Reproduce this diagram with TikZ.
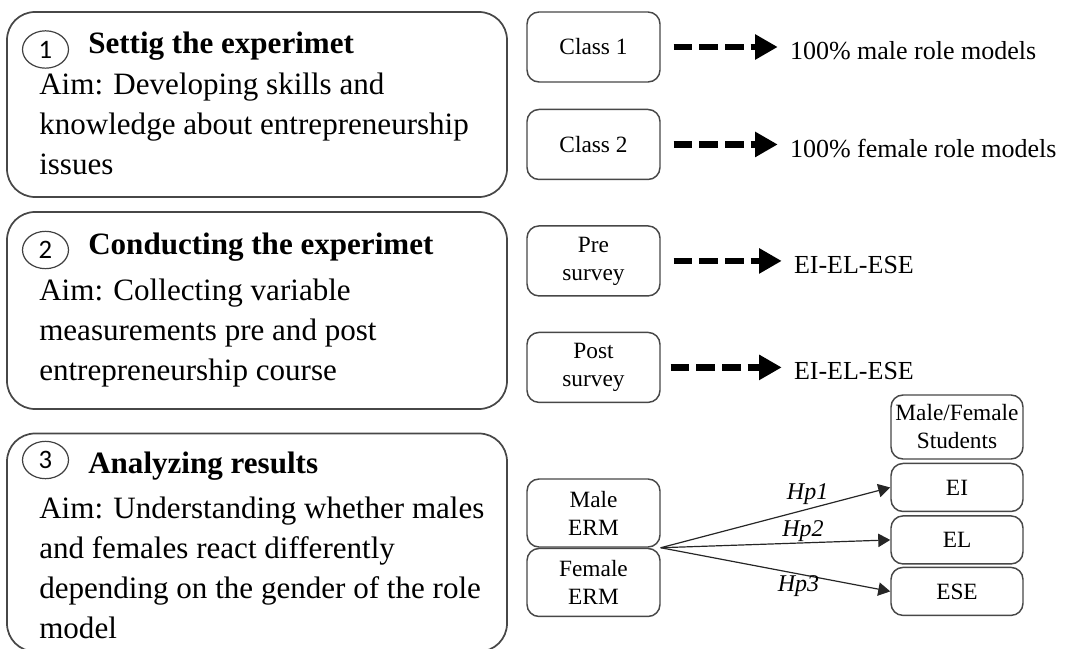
\documentclass[tikz,border=0pt]{standalone}
\usepackage{fontspec}
\setmainfont{Liberation Serif}
\newfontfamily\digitfont{Carlito}
\usetikzlibrary{shapes.geometric, arrows.meta, positioning}

\begin{document}
\begin{tikzpicture}[x=0.75pt, y=-0.75pt]
% Define stage and box styles
\tikzstyle{stage} = [rectangle, draw=black!72, line width=1.3pt, rounded corners=21pt, minimum width=375pt, inner sep=0pt]
\tikzstyle{stepnum} = [ellipse, draw=black!75, line width=0.9pt, minimum width=34.5pt, minimum height=28pt, inner sep=0pt, font=\digitfont\fontsize{20pt}{20pt}\selectfont]
\tikzstyle{heading} = [anchor=base west, inner sep=0pt, font=\fontsize{23.3pt}{30pt}\selectfont\bfseries]
\tikzstyle{aim} = [anchor=north west, inner sep=0pt, align=left, font=\fontsize{23.3pt}{30pt}\selectfont]
\tikzstyle{smallbox} = [rectangle, draw=black!72, line width=1.1pt, rounded corners=9pt, minimum width=99.75pt, minimum height=52.5pt, inner sep=0pt, align=center, font=\fontsize{17.5pt}{21pt}\selectfont]
\tikzstyle{result} = [inner sep=0pt, font=\fontsize{19.5pt}{22pt}\selectfont]
\tikzstyle{dasharrow} = [-{Triangle[length=17pt,width=18pt]}, line width=4.7pt, dash pattern=on 14pt off 5.25pt]
\tikzstyle{hyparrow} = [-{Triangle[length=9pt,width=10pt]}, line width=0.9pt, draw=black!85]
\tikzstyle{hyp} = [font=\fontsize{18pt}{18pt}\selectfont\itshape]
\useasboundingbox (0,0) rectangle (1068,649);

% Left column: the three stages
\node[stage, minimum height=138.75pt] (stage1) at (257,104.5) {};
\node[stage, minimum height=147.75pt] (stage2) at (257,310.5) {};
\node[stage, minimum height=163.5pt] (stage3) at (257,542.5) {};

\node[stepnum] (num1) at (45.5,49.5) {1};
\node[heading] (head1) at (88,54) {Settig the experimet};
\node[aim] (aim1) at (39,72.5) {Aim: Developing skills and\\knowledge about entrepreneurship\\issues};

\node[stepnum] (num2) at (45.5,250) {2};
\node[heading] (head2) at (88,255) {Conducting the experimet};
\node[aim] (aim2) at (39,279) {Aim: Collecting variable\\measurements pre and post\\entrepreneurship course};

\node[stepnum] (num3) at (45.5,460) {3};
\node[heading] (head3) at (88,473) {Analyzing results};
\node[aim] (aim3) at (39,497) {Aim: Understanding whether males\\and females react differently\\depending on the gender of the role\\model};

% Right column: classes and surveys
\node[smallbox] (class1) at (593.5,47) {Class 1};
\node[smallbox, below=19.5pt of class1] (class2) {Class 2};
\node[smallbox, below=33.75pt of class2] (presurvey) {Pre\\survey};
\node[smallbox, below=26.25pt of presurvey] (postsurvey) {Post\\survey};

\node[result, right=96.75pt of class1, yshift=-3pt] (malemodels) {100\% male role models};
\node[result, right=96.75pt of class2, yshift=-3pt] (femalemodels) {100\% female role models};
\node[result, right=99.75pt of presurvey, yshift=-3pt] (preresult) {EI-EL-ESE};
\node[result, right=99.75pt of postsurvey, yshift=-3pt] (postresult) {EI-EL-ESE};

\draw[dasharrow, shorten <=9.75pt, shorten >=9pt] (class1.east) -- (class1.east -| malemodels.west);
\draw[dasharrow, shorten <=9.75pt, shorten >=9pt] (class2.east) -- (class2.east -| femalemodels.west);
\draw[dasharrow, shorten <=9.75pt, shorten >=9pt] (presurvey.east) -- (presurvey.east -| preresult.west);
\draw[dasharrow, shorten <=7.5pt, shorten >=9pt] (postsurvey.east) -- (postsurvey.east -| postresult.west);

% Hypotheses
\node[smallbox, minimum height=51pt] (maleerm) at (593.5,513) {Male\\ERM};
\node[smallbox, minimum height=51pt, below=0pt of maleerm] (femaleerm) {Female\\ERM};
\node[smallbox, minimum width=99pt, minimum height=48pt] (students) at (957,427) {Male/Female\\Students};
\node[smallbox, minimum width=99pt, minimum height=36pt, below=2.25pt of students] (ei) {EI};
\node[smallbox, minimum width=99pt, minimum height=36pt, below=2.25pt of ei] (el) {EL};
\node[smallbox, minimum width=99pt, minimum height=36pt, below=1.5pt of el] (ese) {ESE};

\draw[hyparrow] (maleerm.south east) -- (ei.west) node[hyp, pos=0.64, above] {Hp1};
\draw[hyparrow] (maleerm.south east) -- (el.west) node[hyp, pos=0.62, above, inner sep=0.5pt] {Hp2};
\draw[hyparrow] (maleerm.south east) -- (ese.west) node[hyp, pos=0.6, below, inner sep=1pt] {Hp3};
\end{tikzpicture}
\end{document}
